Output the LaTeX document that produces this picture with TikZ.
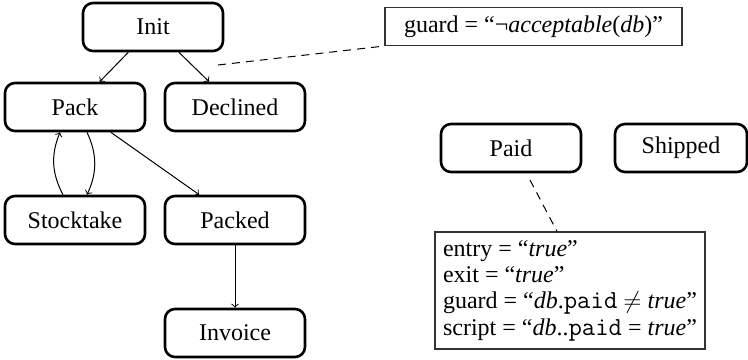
\documentclass[tikz,border=0pt]{standalone}
\usepackage{fontspec}
\setmainfont{Liberation Serif}
\newcommand{\fld}[1]{{\fontsize{13}{13.2}\selectfont\texttt{#1}}}
\begin{document}
\begin{tikzpicture}[x=0.5pt,y=-0.5pt,
    state/.style={draw,rounded corners=5pt,line width=1.3pt,minimum width=70pt,minimum height=24pt,font=\fontsize{12}{14}\selectfont},
    note/.style={draw=black!80,line width=0.6pt,font=\fontsize{12}{13.2}\selectfont,inner sep=4pt},
    trans/.style={->,line width=0.5pt},
    link/.style={dash pattern=on 4pt off 3pt,line width=0.5pt}]
    \useasboundingbox (0,0) rectangle (748,359);
    \node[state] (init) at (153,27) {Init};
    \node[state] (pack) at (75,107) {Pack};
    \node[state] (declined) at (235,107) {Declined};
    \node[state] (stock) at (75,220) {Stocktake};
    \node[state] (packed) at (235,220) {Packed};
    \node[state] (invoice) at (235,333) {Invoice};
    \node[state] (paid) at (511,148) {Paid};
    \node[state,minimum width=66pt] (shipped) at (681,148) {Shipped};
    \node[note,minimum width=148.5pt,minimum height=18.5pt] (guardnote) at (533.5,26.5) {guard = ``¬\textit{acceptable}(\textit{db})''};
    \node[note,minimum width=135pt,align=left] (paidnote) at (570,290.5) {entry = ``\textit{true}''\\
        exit = ``\textit{true}''\\
        guard = ``\textit{db}.\fld{paid} $\neq$ \textit{true}''\\
        script = ``\textit{db}..\fld{paid} = \textit{true}''};
    \draw[trans] (init) -- (pack);
    \draw[trans] (init) -- (declined);
    \draw[trans] (pack) -- (packed);
    \draw[trans] (packed) -- (invoice);
    \draw[trans] ([xshift=-6pt]stock.north) to[bend left=25] ([xshift=-7.5pt]pack.south);
    \draw[trans] ([xshift=6pt]pack.south) to[bend left=25] ([xshift=6pt]stock.north);
    \coordinate (gd) at (218,65);
    \draw[link] (gd) -- (guardnote.south west);
    \coordinate (pd) at (530,180);
    \draw[link] (pd) -- ([xshift=-6.5pt]paidnote.north);
\end{tikzpicture}
\end{document}
